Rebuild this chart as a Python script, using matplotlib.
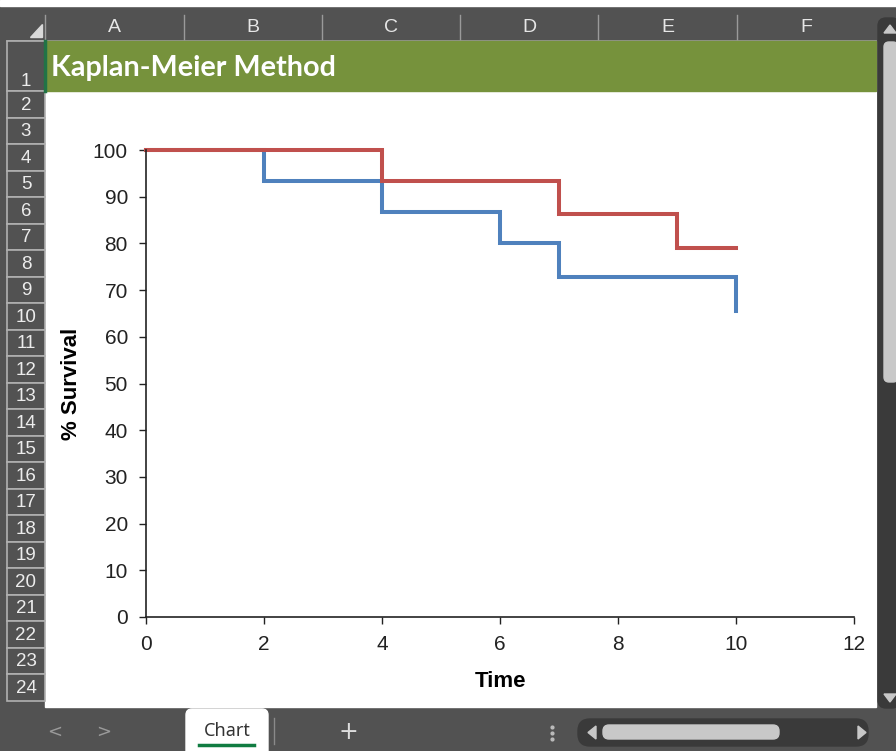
import numpy as np
import matplotlib
matplotlib.use("Agg")
import matplotlib.pyplot as plt
from matplotlib.patches import Rectangle, FancyBboxPatch, Polygon

# data
blue_t = [0, 2, 4, 6, 7, 10]
blue_s = [100, 93.3, 86.7, 80.0, 72.7, 65.5]
red_t = [0, 4, 7, 9, 10]
red_s = [100, 93.3, 86.2, 79.0, 79.0]

col_names = ["A", "B", "C", "D", "E", "F"]
row_names = [str(i) for i in range(1, 25)]
x_ticks = [0, 2, 4, 6, 8, 10, 12]
y_ticks = [0, 10, 20, 30, 40, 50, 60, 70, 80, 90, 100]

W, H = 896, 751
dark = "#525252"
darker = "#3a3a3a"
light = "#c8c8c8"
green = "#76923c"

fig = plt.figure(figsize=(W / 100, H / 100), dpi=100)
bg = fig.add_axes([0, 0, 1, 1])
bg.set_xlim(0, W)
bg.set_ylim(H, 0)
bg.axis("off")

# overall frame
bg.add_patch(Rectangle((0, 0), W, H, color=dark, zorder=0))
bg.add_patch(Rectangle((0, 0), W, 6, color="white", zorder=1))

# column header
col_edges = [45, 184, 322, 460, 598, 737, 876]
for i, name in enumerate(col_names):
    cx = (col_edges[i] + col_edges[i + 1]) / 2
    bg.text(cx, 28, name, color="#e6e6e6", ha="center", va="center",
            fontsize=14, family="Liberation Sans")
for xe in col_edges[:-1]:
    bg.plot([xe, xe], [15, 40], color="#9a9a9a", lw=1, zorder=2)
bg.plot([7, 876], [40.5, 40.5], color="#9a9a9a", lw=1.2, zorder=2)
bg.add_patch(Polygon([[30, 37], [42, 37], [42, 24]], color="#d9d9d9", zorder=2))

# row header
row_top = [41, 91] + [91 + 26.5 * k for k in range(1, 24)]
for i, name in enumerate(row_names):
    y0, y1 = row_top[i], row_top[i + 1]
    bg.add_patch(Rectangle((7, y0), 38, y1 - y0, facecolor=dark,
                           edgecolor="#b0b0b0", lw=1.2, zorder=2))
    ty = y1 - 11 if i == 0 else (y0 + y1) / 2
    bg.text(26, ty + 1, name, color="#ececec", ha="center", va="center",
            fontsize=13.5, family="Liberation Sans", zorder=3)

# cells
bg.add_patch(Rectangle((45, 41), 831, 666, color="white", zorder=1))
bg.add_patch(Rectangle((45, 41), 831, 50, color=green, zorder=2))
bg.plot([45, 45], [41, 91], color="#217346", lw=2.5, zorder=3)
bg.text(51, 68, "Kaplan-Meier Method", color="white", fontsize=20.7,
        fontweight="bold", family="Lato", va="center", ha="left", zorder=3)

# vertical scrollbar
bg.add_patch(FancyBboxPatch((878, 18), 22, 690, boxstyle="round,pad=0,rounding_size=8",
                            color=darker, zorder=2))
bg.add_patch(FancyBboxPatch((884, 42), 14, 340, boxstyle="round,pad=0,rounding_size=5",
                            color=light, zorder=3))
bg.add_patch(Polygon([[884, 33], [896, 33], [890, 25]], color=light, zorder=3))
bg.add_patch(Polygon([[884, 694], [896, 694], [890, 702]], color=light, zorder=3))

# bottom bar
bg.add_patch(FancyBboxPatch((186, 709), 82, 50, boxstyle="round,pad=0,rounding_size=6",
                            color="white", zorder=2))
bg.text(227, 731, "Chart", color="#333333", fontsize=13, family="Noto Sans",
        ha="center", va="center", zorder=3)
bg.plot([199, 254], [745, 745], color="#107c41", lw=2.5, zorder=3)
bg.plot([274, 274], [718, 744], color="#8a8a8a", lw=1, zorder=3)
bg.text(55, 732, "<", color="#9a9a9a", fontsize=13, ha="center", va="center", zorder=3)
bg.text(104, 732, ">", color="#9a9a9a", fontsize=13, ha="center", va="center", zorder=3)
bg.text(348, 732, "+", color="#dddddd", fontsize=17, ha="center", va="center", zorder=3)
for dy in [-6, 0, 6]:
    bg.plot(552, 733 + dy, "o", color="#bbbbbb", ms=2, zorder=3)
bg.add_patch(FancyBboxPatch((578, 719), 290, 27, boxstyle="round,pad=0,rounding_size=12",
                            color=darker, zorder=2))
bg.add_patch(FancyBboxPatch((603, 725), 176, 14, boxstyle="round,pad=0,rounding_size=6",
                            color=light, zorder=3))
bg.add_patch(Polygon([[596, 726], [596, 739], [588, 732.5]], color=light, zorder=3))
bg.add_patch(Polygon([[858, 726], [858, 739], [866, 732.5]], color=light, zorder=3))

# chart
l, r, t, b = 146, 854, 150, 617
ax = fig.add_axes([l / W, 1 - b / H, (r - l) / W, (b - t) / H])
ax.patch.set_alpha(0)
ax.plot(red_t, red_s, drawstyle="steps-post", color="#c0504d", lw=2.9,
        solid_joinstyle="miter", clip_on=False)
ax.plot(blue_t, blue_s, drawstyle="steps-post", color="#4f81bd", lw=2.9,
        solid_joinstyle="miter", clip_on=False, zorder=1)
ax.set_xlim(0, 12)
ax.set_ylim(0, 100)
ax.set_xticks(x_ticks)
ax.set_yticks(y_ticks)
for s in ["top", "right"]:
    ax.spines[s].set_visible(False)
for s in ["left", "bottom"]:
    ax.spines[s].set_color("#222222")
    ax.spines[s].set_linewidth(1.2)
ax.tick_params(length=5, width=1, color="#222222", labelsize=15,
               labelcolor="#222222", pad=8)
for lab in ax.get_xticklabels() + ax.get_yticklabels():
    lab.set_family("Liberation Sans")
ax.set_xlabel("Time", fontsize=16, fontweight="bold", family="Liberation Sans", labelpad=12)
ax.set_ylabel("% Survival", fontsize=16, fontweight="bold", family="Liberation Sans", labelpad=8)

fig.savefig("out.png", dpi=100)
